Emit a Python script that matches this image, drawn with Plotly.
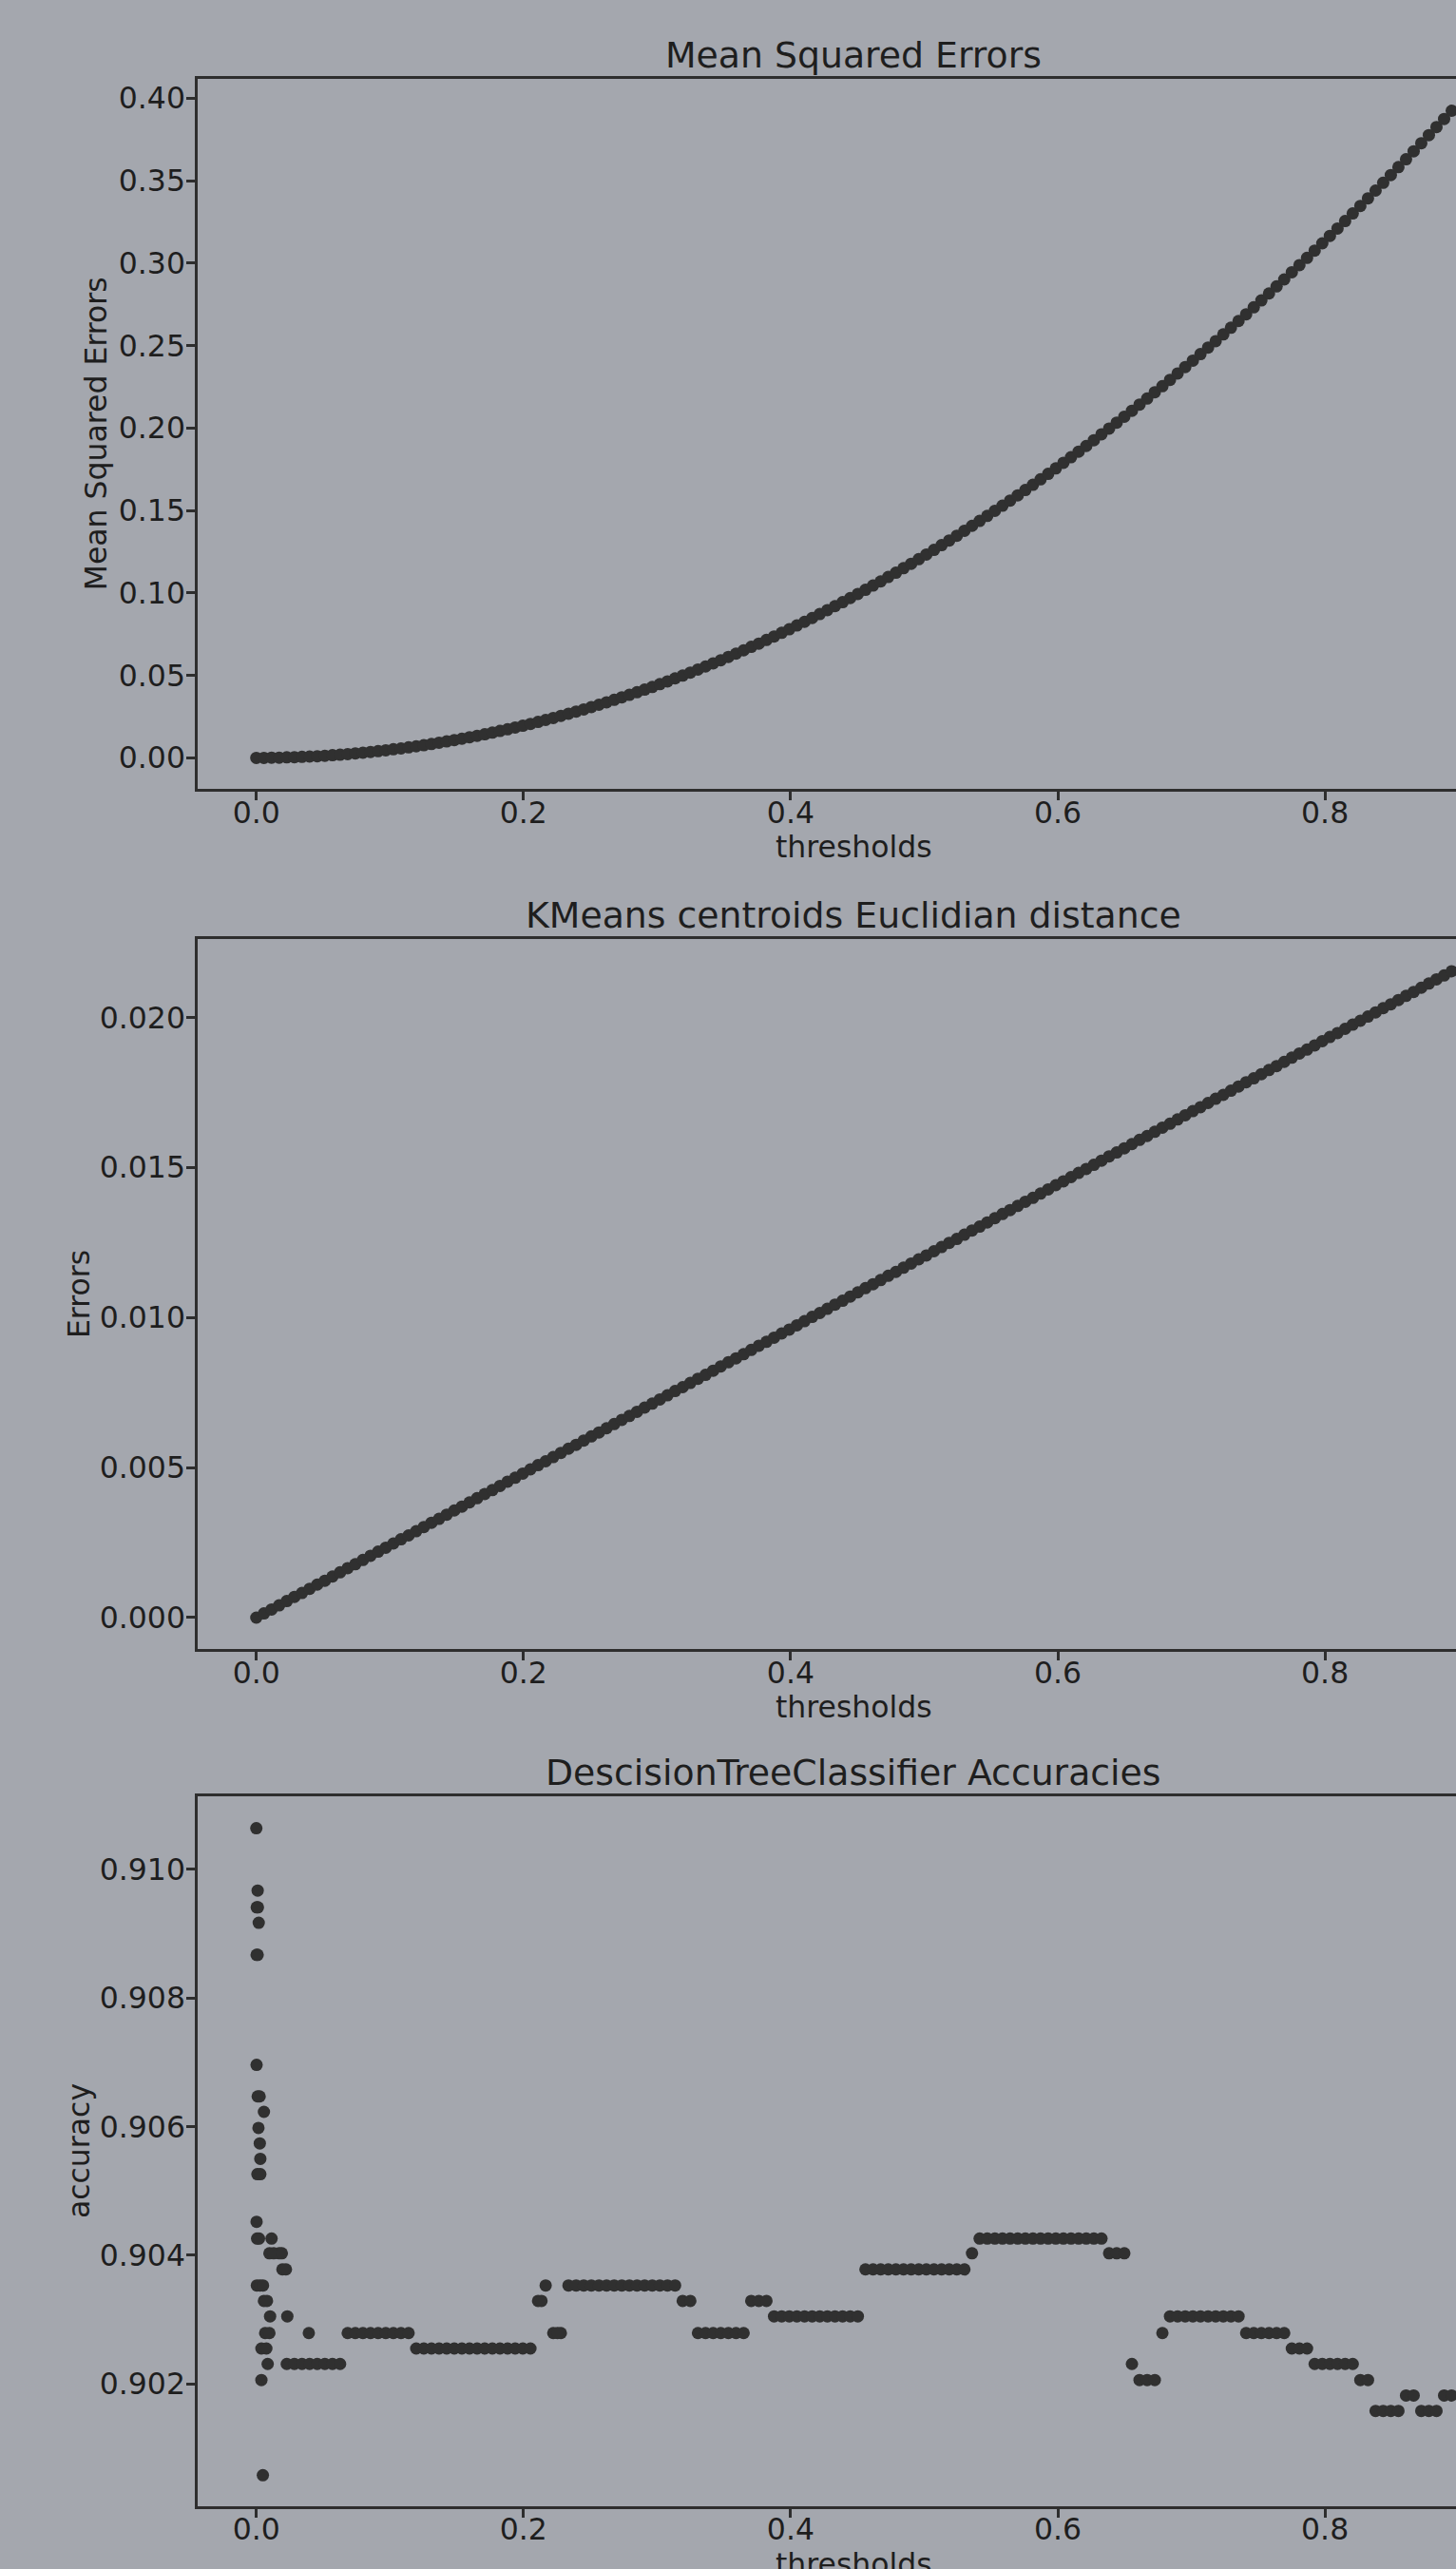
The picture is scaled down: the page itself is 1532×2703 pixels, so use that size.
import plotly.graph_objects as go

# ---------------- data ----------------
thresholds = [
    0.0, 0.0057, 0.0114, 0.0171, 0.0228, 0.0285, 0.0342, 0.0399, 0.0456, 0.0513,
    0.057, 0.0627, 0.0684, 0.0741, 0.0798, 0.0855, 0.0912, 0.0969, 0.1026, 0.1083,
    0.114, 0.1197, 0.1254, 0.1311, 0.1368, 0.1425, 0.1482, 0.1539, 0.1596, 0.1653,
    0.171, 0.1767, 0.1824, 0.1881, 0.1938, 0.1995, 0.2052, 0.2109, 0.2166, 0.2223,
    0.228, 0.2337, 0.2394, 0.2451, 0.2508, 0.2565, 0.2622, 0.2679, 0.2736, 0.2793,
    0.285, 0.2907, 0.2964, 0.3021, 0.3078, 0.3135, 0.3192, 0.3249, 0.3306, 0.3363,
    0.342, 0.3477, 0.3534, 0.3591, 0.3648, 0.3705, 0.3762, 0.3819, 0.3876, 0.3933,
    0.399, 0.4047, 0.4104, 0.4161, 0.4218, 0.4275, 0.4332, 0.4389, 0.4446, 0.4503,
    0.456, 0.4617, 0.4674, 0.4731, 0.4788, 0.4845, 0.4902, 0.4959, 0.5016, 0.5073,
    0.513, 0.5187, 0.5244, 0.5301, 0.5358, 0.5415, 0.5472, 0.5529, 0.5586, 0.5643,
    0.57, 0.5757, 0.5814, 0.5871, 0.5928, 0.5985, 0.6042, 0.6099, 0.6156, 0.6213,
    0.627, 0.6327, 0.6384, 0.6441, 0.6498, 0.6555, 0.6612, 0.6669, 0.6726, 0.6783,
    0.684, 0.6897, 0.6954, 0.7011, 0.7068, 0.7125, 0.7182, 0.7239, 0.7296, 0.7353,
    0.741, 0.7467, 0.7524, 0.7581, 0.7638, 0.7695, 0.7752, 0.7809, 0.7866, 0.7923,
    0.798, 0.8037, 0.8094, 0.8151, 0.8208, 0.8265, 0.8322, 0.8379, 0.8436, 0.8493,
    0.855, 0.8607, 0.8664, 0.8721, 0.8778, 0.8835, 0.8892, 0.8949,
]

mse = [
    0.0, 0.0, 0.0001, 0.0001, 0.0003, 0.0004, 0.0006, 0.0008, 0.0010, 0.0013,
    0.0016, 0.0019, 0.0023, 0.0027, 0.0031, 0.0036, 0.0041, 0.0046, 0.0052, 0.0057,
    0.0064, 0.0070, 0.0077, 0.0084, 0.0092, 0.0100, 0.0108, 0.0116, 0.0125, 0.0134,
    0.0143, 0.0153, 0.0163, 0.0173, 0.0184, 0.0195, 0.0206, 0.0218, 0.0230, 0.0242,
    0.0255, 0.0268, 0.0281, 0.0294, 0.0308, 0.0322, 0.0337, 0.0352, 0.0367, 0.0382,
    0.0398, 0.0414, 0.0430, 0.0447, 0.0464, 0.0482, 0.0499, 0.0517, 0.0536, 0.0554,
    0.0573, 0.0592, 0.0612, 0.0632, 0.0652, 0.0673, 0.0693, 0.0715, 0.0736, 0.0758,
    0.0780, 0.0803, 0.0825, 0.0848, 0.0872, 0.0896, 0.0920, 0.0944, 0.0969, 0.0994,
    0.1019, 0.1045, 0.1070, 0.1097, 0.1123, 0.1150, 0.1177, 0.1205, 0.1233, 0.1261,
    0.1290, 0.1318, 0.1347, 0.1377, 0.1407, 0.1437, 0.1467, 0.1498, 0.1529, 0.1560,
    0.1592, 0.1624, 0.1656, 0.1689, 0.1722, 0.1755, 0.1789, 0.1823, 0.1857, 0.1891,
    0.1926, 0.1962, 0.1997, 0.2033, 0.2069, 0.2105, 0.2142, 0.2179, 0.2217, 0.2254,
    0.2292, 0.2331, 0.2370, 0.2409, 0.2448, 0.2488, 0.2527, 0.2568, 0.2608, 0.2649,
    0.2690, 0.2732, 0.2774, 0.2816, 0.2859, 0.2901, 0.2945, 0.2988, 0.3032, 0.3076,
    0.3120, 0.3165, 0.3210, 0.3255, 0.3301, 0.3347, 0.3393, 0.3440, 0.3487, 0.3534,
    0.3582, 0.3630, 0.3678, 0.3727, 0.3776, 0.3825, 0.3874, 0.3924,
]

kmeans = [
    0.0, 0.00014, 0.00027, 0.00041, 0.00055, 0.00069, 0.00082, 0.00096, 0.00110, 0.00123,
    0.00137, 0.00151, 0.00165, 0.00178, 0.00192, 0.00206, 0.00220, 0.00233, 0.00247, 0.00261,
    0.00274, 0.00288, 0.00302, 0.00316, 0.00329, 0.00343, 0.00357, 0.00370, 0.00384, 0.00398,
    0.00412, 0.00425, 0.00439, 0.00453, 0.00466, 0.00480, 0.00494, 0.00508, 0.00521, 0.00535,
    0.00549, 0.00563, 0.00576, 0.00590, 0.00604, 0.00617, 0.00631, 0.00645, 0.00659, 0.00672,
    0.00686, 0.00700, 0.00713, 0.00727, 0.00741, 0.00755, 0.00768, 0.00782, 0.00796, 0.00809,
    0.00823, 0.00837, 0.00851, 0.00864, 0.00878, 0.00892, 0.00906, 0.00919, 0.00933, 0.00947,
    0.00960, 0.00974, 0.00988, 0.01002, 0.01015, 0.01029, 0.01043, 0.01056, 0.01070, 0.01084,
    0.01098, 0.01111, 0.01125, 0.01139, 0.01152, 0.01166, 0.01180, 0.01194, 0.01207, 0.01221,
    0.01235, 0.01249, 0.01262, 0.01276, 0.01290, 0.01303, 0.01317, 0.01331, 0.01345, 0.01358,
    0.01372, 0.01386, 0.01399, 0.01413, 0.01427, 0.01441, 0.01454, 0.01468, 0.01482, 0.01495,
    0.01509, 0.01523, 0.01537, 0.01550, 0.01564, 0.01578, 0.01592, 0.01605, 0.01619, 0.01633,
    0.01646, 0.01660, 0.01674, 0.01688, 0.01701, 0.01715, 0.01729, 0.01742, 0.01756, 0.01770,
    0.01784, 0.01797, 0.01811, 0.01825, 0.01838, 0.01852, 0.01866, 0.01880, 0.01893, 0.01907,
    0.01921, 0.01935, 0.01948, 0.01962, 0.01976, 0.01989, 0.02003, 0.02017, 0.02031, 0.02044,
    0.02058, 0.02072, 0.02085, 0.02099, 0.02113, 0.02127, 0.02140, 0.02154,
]

# accuracy along the thresholds, as runs of equal value (value, number of thresholds)
acc_levels = [0.91064, 0.90623, 0.90426, 0.90403, 0.90231, 0.90279, 0.90255, 0.90329,
              0.90353, 0.90279, 0.90353, 0.90329, 0.90279, 0.90329, 0.90305, 0.90378,
              0.90403, 0.90426, 0.90403, 0.90231, 0.90206, 0.90279, 0.90305, 0.90279,
              0.90255, 0.90231, 0.90206, 0.90158, 0.90182, 0.90158, 0.90182]
acc_counts = [1, 1, 1, 1, 8, 9, 16, 1,
              1, 2, 15, 2, 7, 3, 12, 14,
              1, 17, 3, 1, 3, 1, 10, 6,
              3, 6, 2, 4, 2, 3, 2]

# additional accuracy points (thresholds very close to zero, and a few in between)
acc_extra_x = [0.0010, 0.0003, 0.0012, 0.0018, 0.0002, 0.0010, 0.0002, 0.0010, 0.0025,
               0.0016, 0.0026, 0.0030, 0.0008, 0.0030, 0.0002, 0.0006, 0.0020, 0.0098,
               0.0130, 0.0191, 0.0195, 0.0222, 0.0004, 0.0028, 0.0050, 0.0057, 0.0080,
               0.0103, 0.0232, 0.0066, 0.0098, 0.0038, 0.0075, 0.0085, 0.0038, 0.0049,
               0.0393, 0.2135, 0.2255]
acc_extra_y = [0.90967, 0.90941, 0.90941, 0.90917, 0.90867, 0.90867, 0.90696, 0.90647, 0.90647,
               0.90598, 0.90574, 0.90550, 0.90526, 0.90526, 0.90452, 0.90426, 0.90426, 0.90403,
               0.90403, 0.90403, 0.90378, 0.90378, 0.90353, 0.90353, 0.90353, 0.90329, 0.90329,
               0.90305, 0.90305, 0.90279, 0.90279, 0.90255, 0.90255, 0.90231, 0.90206, 0.90058,
               0.90279, 0.90329, 0.90279]

x_ticks = [0.0, 0.2, 0.4, 0.6, 0.8]
x_tick_labels = ["0.0", "0.2", "0.4", "0.6", "0.8"]
y1_ticks = [0.0, 0.05, 0.10, 0.15, 0.20, 0.25, 0.30, 0.35, 0.40]
y1_tick_labels = ["0.00", "0.05", "0.10", "0.15", "0.20", "0.25", "0.30", "0.35", "0.40"]
y2_ticks = [0.0, 0.005, 0.010, 0.015, 0.020]
y2_tick_labels = ["0.000", "0.005", "0.010", "0.015", "0.020"]
y3_ticks = [0.902, 0.904, 0.906, 0.908, 0.910]
y3_tick_labels = ["0.902", "0.904", "0.906", "0.908", "0.910"]

titles = ["Mean Squared Errors", "KMeans centroids Euclidian distance",
          "DescisionTreeClassifier Accuracies"]
x_label = "thresholds"
y_labels = ["Mean Squared Errors", "Errors", "accuracy"]

accuracy = [v for v, n in zip(acc_levels, acc_counts) for _ in range(n)]

# ---------------- style ----------------
W, H = 1532, 2703
ML, MT, MB = 208, 83, 66
PW, PH = W - ML, H - MT - MB
BG = "#a4a7ae"
DOT = "#303030"
AX = "#2e2e2e"
TXT = "#1e1e1e"
FONT = "DejaVu Sans, Liberation Sans, sans-serif"
TICK_SIZE = 31.5
TITLE_SIZE = 37.8
MS = 13


def py(px):
    return (H - MB - px) / PH


def pxx(px):
    return (px - ML) / PW


# axes boxes (top, bottom) in pixels
boxes = [(83.2, 830.1), (987.8, 1735.3), (1890.4, 2636.8)]
y_ranges = [[-0.01885, 0.4116], [-0.001055, 0.02262], [0.90010, 0.91113]]
y_tick_sets = [(y1_ticks, y1_tick_labels), (y2_ticks, y2_tick_labels), (y3_ticks, y3_tick_labels)]
ylabel_x = [100.6, 82.5, 82.5]

fig = go.Figure()
series = [(thresholds, mse), (thresholds, kmeans), (thresholds + acc_extra_x, accuracy + acc_extra_y)]
for i, (xs, ys) in enumerate(series):
    sfx = "" if i == 0 else str(i + 1)
    fig.add_trace(go.Scatter(x=xs, y=ys, mode="markers",
                             marker=dict(size=MS, color=DOT, line=dict(width=0)),
                             xaxis="x" + sfx, yaxis="y" + sfx, hoverinfo="skip",
                             showlegend=False))

layout = dict(width=W, height=H, paper_bgcolor=BG, plot_bgcolor=BG,
              margin=dict(l=ML, r=0, t=MT, b=MB, pad=0),
              font=dict(family=FONT, color=TXT, size=TICK_SIZE),
              showlegend=False)
annotations = []
for i, (top, bot) in enumerate(boxes):
    sfx = "" if i == 0 else str(i + 1)
    common_axis = dict(showline=True, linecolor=AX, linewidth=2.5, ticks="outside",
                       ticklen=9, tickwidth=2.5, tickcolor=AX, showgrid=False,
                       zeroline=False, automargin=False,
                       tickfont=dict(family=FONT, size=TICK_SIZE, color=TXT))
    layout["xaxis" + sfx] = dict(common_axis, range=[-0.0439, 0.8981], domain=[0, 1],
                                 anchor="y" + sfx, mirror=True, ticklabelstandoff=-14,
                                 tickvals=x_ticks, ticktext=x_tick_labels)
    tv, tt = y_tick_sets[i]
    layout["yaxis" + sfx] = dict(common_axis, range=y_ranges[i],
                                 domain=[py(bot), min(1.0, py(top))],
                                 anchor="x" + sfx, mirror=False, ticklabelstandoff=-5,
                                 tickvals=tv, ticktext=tt)
    annotations.append(dict(text=titles[i], x=pxx(898), y=py(top - 25), xref="paper",
                            yref="paper", xanchor="center", yanchor="middle",
                            showarrow=False, font=dict(family=FONT, size=TITLE_SIZE, color=TXT)))
    annotations.append(dict(text=x_label, x=pxx(898), y=py(bot + 61), xref="paper",
                            yref="paper", xanchor="center", yanchor="middle",
                            showarrow=False, font=dict(family=FONT, size=TICK_SIZE, color=TXT)))
    annotations.append(dict(text=y_labels[i], x=pxx(ylabel_x[i]), y=py((top + bot) / 2),
                            xref="paper", yref="paper", xanchor="center", yanchor="middle",
                            textangle=-90, showarrow=False,
                            font=dict(family=FONT, size=TICK_SIZE, color=TXT)))
layout["annotations"] = annotations
fig.update_layout(**layout)

fig.write_html("out.html", config={"displayModeBar": False},
               post_script="document.body.style.margin='0';"
                           "document.body.style.overflow='hidden';")
